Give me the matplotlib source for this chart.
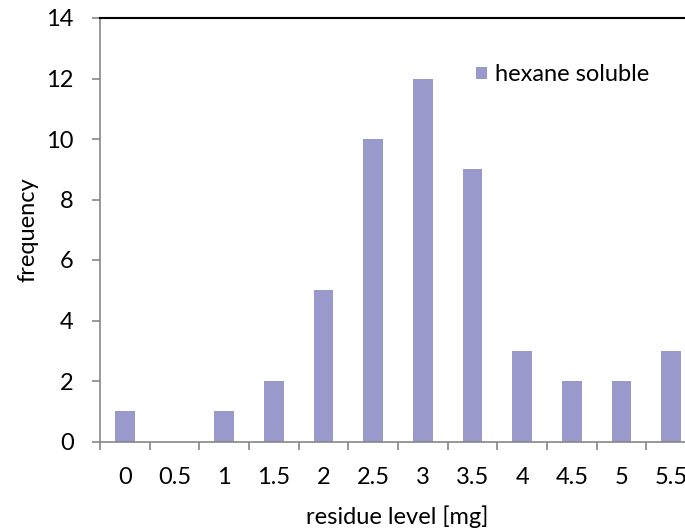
import matplotlib
matplotlib.use("Agg")
import matplotlib.pyplot as plt
from matplotlib.patches import Patch

plt.rcParams['font.family'] = ['Lato', 'DejaVu Sans']

categories = ["0", "0.5", "1", "1.5", "2", "2.5", "3", "3.5", "4", "4.5", "5", "5.5"]
frequency = [1, 0, 1, 2, 5, 10, 12, 9, 3, 2, 2, 3]
series_name = "hexane soluble"
y_ticks = [0, 2, 4, 6, 8, 10, 12, 14]

W, H = 685, 530
FS = 17
fig = plt.figure(figsize=(W / 100, H / 100), dpi=100)
left, right, top, bottom = 100, 696, 18, 441.5
ax = fig.add_axes([left / W, (H - bottom) / H, (right - left) / W, (bottom - top) / H])

bar_color = "#9999cc"
axis_gray = "#868686"
x = list(range(len(categories)))
ax.bar(x, frequency, width=0.4, color=bar_color, zorder=2)

ax.set_xlim(-0.5, len(categories) - 0.5)
ax.set_ylim(0, 14)

# category boundaries carry the tick marks; labels sit at category centres
ax.set_xticks([i - 0.5 for i in range(len(categories) + 1)])
ax.set_xticklabels([])
ax.set_xticks(x, minor=True)
ax.set_xticklabels(categories, minor=True)
ax.tick_params(axis="x", which="major", direction="out", length=6, width=1.2, color=axis_gray)
ax.tick_params(axis="x", which="minor", length=0, pad=18.3, labelsize=FS)

ax.set_yticks(y_ticks)
ax.set_yticklabels([str(v) for v in y_ticks])
ax.tick_params(axis="y", direction="out", length=6, width=1.2, color=axis_gray, pad=13, labelsize=FS)

for side in ("left", "bottom"):
    ax.spines[side].set_color(axis_gray)
    ax.spines[side].set_linewidth(1.2)
ax.spines["top"].set_color("black")
ax.spines["top"].set_linewidth(1.5)
ax.spines["right"].set_visible(False)

ax.set_xlabel("residue level [mg]", fontsize=FS)
ax.set_ylabel("frequency", fontsize=FS)
ax.xaxis.set_label_coords((397 - left) / (right - left), -(505 - bottom) / (bottom - top))
ax.yaxis.set_label_coords(-(100 - 39) / (right - left), (bottom - 230) / (bottom - top))

handle = Patch(facecolor=bar_color, edgecolor="none")
ax.legend([handle], [series_name], loc="upper left",
          bbox_to_anchor=((467 - left) / (right - left), (bottom - 55) / (bottom - top)),
          frameon=False, fontsize=FS, handlelength=0.45, handleheight=0.45,
          handletextpad=0.35, borderaxespad=0)

fig.savefig("out.png", dpi=100)
